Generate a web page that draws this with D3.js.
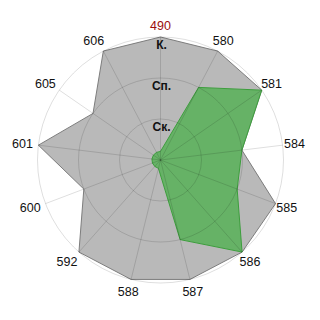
<!DOCTYPE html>
<html>
<head>
<meta charset="utf-8">
<script src="https://cdn.jsdelivr.net/npm/d3@7"></script>
<style>
    body { margin: 0; background: #fff; }
    text { font-family: "Liberation Sans", Arial, sans-serif; }
</style>
</head>
<body>
<div id="container"></div>
<script>
const width = 320, height = 320
const cx = 160.5, cy = 160, radius = 123

// axes, clockwise from top
const categories = ["490", "580", "581", "584", "585", "586", "587", "588", "592", "600", "601", "605", "606"]
// ring levels
const levelValues = [1, 2, 3]
const levelLabels = ["Ск.", "Сп.", "К."]
// series
const greyValues = [3, 3, 3, 2, 3, 3, 3, 3, 3, 2, 3, 2, 3]
const greenValues = [0.21, 2, 3, 2, 2, 3, 2, 0.21, 0.21, 0.21, 0.21, 0.21, 0.21]

const svg = d3.select("#container")
    .append("svg")
    .attr("width", width)
    .attr("height", height)

const g = svg.append("g").attr("transform", "translate(" + [cx, cy] + ")")

const angle = d3.scalePoint()
    .domain(categories.concat(["_end"]))
    .range([0, 2 * Math.PI])
const r = d3.scaleLinear().domain([0, 3]).range([0, radius])

const line = d3.lineRadial()
    .angle((d, i) => angle(categories[i]))
    .radius(d => r(d))
    .curve(d3.curveLinearClosed)

// series polygons
g.append("path")
    .datum(greyValues)
    .attr("d", line)
    .attr("fill", "#b9b9b9")
    .attr("stroke", "#7d7d7d")
    .attr("stroke-width", 1)

g.append("path")
    .datum(greenValues)
    .attr("d", line)
    .attr("fill", "#66b266")
    .attr("stroke", "#3d9e3d")
    .attr("stroke-width", 1)
    .attr("stroke-linejoin", "round")

// grid on top, semi transparent
const grid = g.append("g").attr("stroke", "rgba(0,0,0,0.13)").attr("fill", "none")

grid.selectAll("circle")
    .data(levelValues)
    .enter()
    .append("circle")
    .attr("r", d => r(d))

grid.selectAll("line")
    .data(categories)
    .enter()
    .append("line")
    .attr("x1", 0)
    .attr("y1", 0)
    .attr("x2", d => Math.sin(angle(d)) * radius)
    .attr("y2", d => -Math.cos(angle(d)) * radius)

// ring labels
g.selectAll(".level")
    .data(levelValues)
    .enter()
    .append("text")
    .attr("class", "level")
    .attr("x", 1)
    .attr("y", d => -r(d) + 12)
    .attr("text-anchor", "middle")
    .attr("font-size", "12px")
    .attr("font-weight", "bold")
    .attr("fill", "#111")
    .text((d, i) => levelLabels[i])

// axis labels
g.selectAll(".axis-label")
    .data(categories)
    .enter()
    .append("text")
    .attr("class", "axis-label")
    .attr("x", d => {
        let s = Math.sin(angle(d))
        return s * 135 + (s < -0.3 ? -4 : 0)
    })
    .attr("y", d => -Math.cos(angle(d)) * 135)
    .attr("dy", "0.36em")
    .attr("text-anchor", "middle")
    .attr("font-size", "12.5px")
    .attr("fill", (d, i) => i === 0 ? "#9b0d0d" : "#111")
    .text(d => d)
</script>
</body>
</html>
